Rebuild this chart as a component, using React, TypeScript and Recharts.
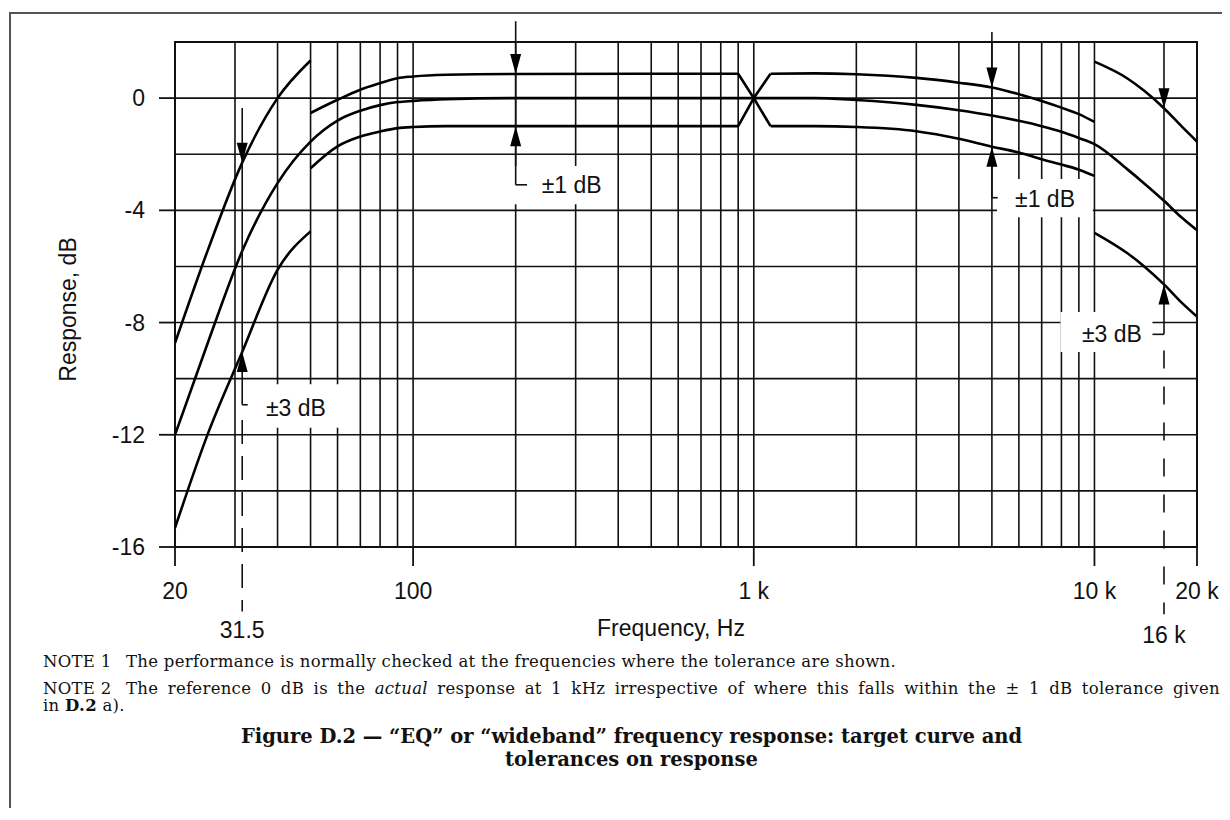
import React from 'react';
import { LineChart, Line, XAxis, YAxis, CartesianGrid, ReferenceLine, ReferenceArea, ReferenceDot } from 'recharts';

// axes
const gridFreqs = [20, 30, 40, 50, 60, 70, 80, 90, 100, 200, 300, 400, 500, 600, 700, 800, 900, 1000, 2000, 3000, 4000, 5000, 6000, 7000, 8000, 9000, 10000, 20000];
const freqTickLabels: Record<number, string> = { 20: '20', 100: '100', 1000: '1 k', 10000: '10 k', 20000: '20 k' };
const dbTicks = [-16, -14, -12, -10, -8, -6, -4, -2, 0, 2];
const dbTickLabels = [-16, -12, -8, -4, 0];

// target curve
const targetFreq = [20, 25, 31.5, 40, 50, 60, 70, 80, 90, 100, 125, 200, 500, 1000, 1500, 2000, 3000, 4000, 5000, 6000, 7000, 8000, 9000, 10000, 12500, 14000, 16000, 18000, 20000];
const targetDb = [-12.0, -8.7, -5.45, -3.03, -1.55, -0.8, -0.45, -0.25, -0.14, -0.1, -0.04, 0, 0, 0, 0, -0.07, -0.24, -0.43, -0.62, -0.81, -1.0, -1.2, -1.42, -1.64, -2.54, -3.04, -3.66, -4.25, -4.71];

// upper tolerance, piece by piece
const upperLowFreq = [20, 25, 31.5, 40, 50];
const upperLowDb = [-8.73, -5.4, -2.3, 0, 1.34];
const upperMidFreq = [50, 60, 70, 80, 90, 100, 125, 200, 900];
const upperMidDb = [-0.53, -0.06, 0.3, 0.53, 0.71, 0.77, 0.83, 0.86, 0.87];
const upperNotchFreq = [900, 1000, 1120];
const upperNotchDb = [0.87, 0, 0.87];
const upperHighFreq = [1120, 1500, 2000, 3000, 4000, 5000, 6000, 7000, 8000, 9000, 10000];
const upperHighDb = [0.87, 0.88, 0.85, 0.72, 0.55, 0.38, 0.14, -0.1, -0.34, -0.57, -0.85];
const upperTopFreq = [10000, 12500, 14000, 16000, 18000, 20000];
const upperTopDb = [1.3, 0.7, 0.26, -0.36, -1.0, -1.55];

// lower tolerance
const lowerLowFreq = [20, 25, 31.5, 40, 50];
const lowerLowDb = [-15.32, -11.95, -9.05, -6.12, -4.75];
const lowerMidFreq = [50, 60, 70, 80, 90, 100, 125, 200, 900];
const lowerMidDb = [-2.5, -1.72, -1.37, -1.19, -1.07, -1.03, -1.0, -1.0, -1.0];
const lowerNotchFreq = [900, 1000, 1120];
const lowerNotchDb = [-1.0, 0, -1.0];
const lowerHighFreq = [1120, 1500, 2000, 3000, 4000, 5000, 6000, 7000, 8000, 9000, 10000];
const lowerHighDb = [-1.0, -1.0, -1.03, -1.18, -1.45, -1.73, -1.94, -2.18, -2.37, -2.55, -2.77];
const lowerBottomFreq = [10000, 12500, 14000, 16000, 18000, 20000];
const lowerBottomDb = [-4.8, -5.53, -6.0, -6.64, -7.28, -7.79];

// tolerance check marks: frequency, top of line, elbow level, elbow end
const markFreq = [31.5, 200, 5000, 16000];
const markTop = [-0.35, 2.74, 2.36, 2];
const markElbow = [-10.93, -3.09, -3.55, -8.42];
const markElbowFreq = [32.7, 216, 5200, 14800];

// dashed extensions below the marks
const dashFreq = [31.5, 16000];
const dashFrom = [-11.47, -9.0];
const dashTo = [-18.3, -18.4];
const dashText = ['31.5', '16 k'];
const dashTextDb = [-18.95, -19.15];

// tolerance labels and the clear space behind them
const tolText = ['±3 dB', '±1 dB', '±1 dB', '±3 dB'];
const tolFreq = [45.3, 292, 7160, 11250];
const tolDb = [-11.04, -3.09, -3.6, -8.41];
const tolBoxFreq = [[32.6, 61.5], [196.7, 385], [5174, 9890], [7950, 14800]];
const tolBoxDb = [[-10.2, -11.75], [-2.42, -3.78], [-2.88, -4.25], [-7.62, -9.05]];

const pts = (f: number[], db: number[]) => f.map((v, i) => ({ f: v, db: db[i] }));
const at = (f: number[], db: number[], x: number) => db[f.indexOf(x)];

const upperAt = (x: number) => {
  for (const [f, d] of [[upperLowFreq, upperLowDb], [upperMidFreq, upperMidDb], [upperHighFreq, upperHighDb], [upperTopFreq, upperTopDb]]) {
    if (f.includes(x)) return at(f, d, x);
  }
  return 0;
};
const lowerAt = (x: number) => {
  for (const [f, d] of [[lowerLowFreq, lowerLowDb], [lowerMidFreq, lowerMidDb], [lowerHighFreq, lowerHighDb], [lowerBottomFreq, lowerBottomDb]]) {
    if (f.includes(x)) return at(f, d, x);
  }
  return 0;
};

const SANS = '"Liberation Sans", Arial, Helvetica, sans-serif';
const SERIF = '"DejaVu Serif", "Liberation Serif", serif';
const INK = '#111';

const FreqTick = (props: any) => {
  const { x, y, payload } = props;
  const label = freqTickLabels[payload.value];
  if (!label) return <g />;
  return (
    <g>
      <line x1={x} y1={y} x2={x} y2={y + 19} stroke={INK} strokeWidth={1.8} />
      <text x={x} y={y + 44} textAnchor="middle" dominantBaseline="central" fontFamily={SANS} fontSize={23} fill={INK}>
        {label}
      </text>
    </g>
  );
};

const DbTick = (props: any) => {
  const { x, y, payload } = props;
  if (!dbTickLabels.includes(payload.value)) return <g />;
  return (
    <g>
      <line x1={x - 16} y1={y} x2={x} y2={y} stroke={INK} strokeWidth={1.8} />
      <text x={x - 30} y={y} textAnchor="end" dominantBaseline="central" fontFamily={SANS} fontSize={23} fill={INK}>
        {payload.value}
      </text>
    </g>
  );
};

const arrowDown = (p: any) => (
  <path d={`M${p.cx} ${p.cy} L${p.cx - 5.5} ${p.cy - 20} L${p.cx + 5.5} ${p.cy - 20} Z`} fill="#000" />
);
const arrowUp = (p: any) => (
  <path d={`M${p.cx} ${p.cy} L${p.cx - 5.5} ${p.cy + 20} L${p.cx + 5.5} ${p.cy + 20} Z`} fill="#000" />
);
const textShape = (t: string) => (p: any) => (
  <text x={p.cx} y={p.cy} textAnchor="middle" dominantBaseline="central" fontFamily={SANS} fontSize={23} fill={INK}>
    {t}
  </text>
);

const curve = (key: string, f: number[], db: number[], type: 'monotone' | 'linear' = 'monotone') => (
  <Line
    key={key}
    data={pts(f, db)}
    dataKey="db"
    type={type}
    stroke="#000"
    strokeWidth={2.6}
    dot={false}
    activeDot={false}
    isAnimationActive={false}
  />
);

export default function App() {
  return (
    <div style={{ position: 'relative', width: 1214, height: 800 }}>
      <div
        style={{
          position: 'absolute',
          left: 1,
          top: 4,
          width: 1220,
          height: 806,
          borderTop: '2px solid #555',
          borderLeft: '2px solid #555',
          boxSizing: 'border-box',
        }}
      />
      <LineChart width={1214} height={640} margin={{ top: 34, right: 25, bottom: 41, left: 107 }}>
        <CartesianGrid stroke={INK} strokeWidth={1.6} />
        <XAxis
          dataKey="f"
          type="number"
          scale="log"
          domain={[20, 20000]}
          ticks={gridFreqs}
          interval={0}
          allowDataOverflow
          height={60}
          axisLine={false}
          tickLine={false}
          tickSize={0}
          tickMargin={0}
          tick={(p: any) => <FreqTick {...p} />}
          label={{
            content: (p: any) => {
              const vb = p.viewBox;
              return (
                <text x={vb.x + vb.width / 2 - 15} y={vb.y + 81} textAnchor="middle" dominantBaseline="central" fontFamily={SANS} fontSize={23} fill={INK}>
                  Frequency, Hz
                </text>
              );
            },
          }}
        />
        <YAxis
          type="number"
          domain={[-16, 2]}
          ticks={dbTicks}
          interval={0}
          allowDataOverflow
          width={60}
          axisLine={false}
          tickLine={false}
          tickSize={0}
          tickMargin={0}
          tick={(p: any) => <DbTick {...p} />}
          label={{
            content: (p: any) => {
              const vb = p.viewBox;
              const cx = vb.x - 47;
              const cy = vb.y + vb.height / 2 + 15;
              return (
                <text x={cx} y={cy} transform={`rotate(-90 ${cx} ${cy})`} textAnchor="middle" dominantBaseline="central" fontFamily={SANS} fontSize={23} fill={INK}>
                  Response, dB
                </text>
              );
            },
          }}
        />
        <ReferenceArea x1={20} x2={20000} y1={-16} y2={2} fill="none" stroke={INK} strokeWidth={2} ifOverflow="visible" />

        {tolBoxFreq.map((bx, i) => (
          <ReferenceArea
            key={`box${i}`}
            x1={bx[0]}
            x2={bx[1]}
            y1={tolBoxDb[i][0]}
            y2={tolBoxDb[i][1]}
            fill="#fff"
            fillOpacity={1}
            stroke="none"
            ifOverflow="visible"
          />
        ))}

        {curve('t', targetFreq, targetDb)}
        {curve('u1', upperLowFreq, upperLowDb)}
        {curve('u2', upperMidFreq, upperMidDb)}
        {curve('u3', upperNotchFreq, upperNotchDb, 'linear')}
        {curve('u4', upperHighFreq, upperHighDb)}
        {curve('u5', upperTopFreq, upperTopDb)}
        {curve('l1', lowerLowFreq, lowerLowDb)}
        {curve('l2', lowerMidFreq, lowerMidDb)}
        {curve('l3', lowerNotchFreq, lowerNotchDb, 'linear')}
        {curve('l4', lowerHighFreq, lowerHighDb)}
        {curve('l5', lowerBottomFreq, lowerBottomDb)}

        {markFreq.map((f, i) => (
          <ReferenceLine
            key={`mv${i}`}
            segment={[{ x: f, y: markTop[i] }, { x: f, y: markElbow[i] }]}
            stroke={INK}
            strokeWidth={1.6}
            ifOverflow="visible"
          />
        ))}
        {markFreq.map((f, i) => (
          <ReferenceLine
            key={`mh${i}`}
            segment={[{ x: f, y: markElbow[i] }, { x: markElbowFreq[i], y: markElbow[i] }]}
            stroke={INK}
            strokeWidth={1.6}
            ifOverflow="visible"
          />
        ))}
        {dashFreq.map((f, i) => (
          <ReferenceLine
            key={`dl${i}`}
            segment={[{ x: f, y: dashFrom[i] }, { x: f, y: dashTo[i] }]}
            stroke={INK}
            strokeWidth={1.6}
            strokeDasharray={i === 0 ? '24 12' : '18 18'}
            ifOverflow="visible"
          />
        ))}
        {markFreq.map((f, i) => (
          <ReferenceDot key={`ad${i}`} x={f} y={upperAt(f)} r={1} shape={arrowDown} ifOverflow="visible" />
        ))}
        {markFreq.map((f, i) => (
          <ReferenceDot key={`au${i}`} x={f} y={lowerAt(f)} r={1} shape={arrowUp} ifOverflow="visible" />
        ))}
        {tolText.map((t, i) => (
          <ReferenceDot key={`tt${i}`} x={tolFreq[i]} y={tolDb[i]} r={1} shape={textShape(t)} ifOverflow="visible" />
        ))}
        {dashText.map((t, i) => (
          <ReferenceDot key={`dt${i}`} x={dashFreq[i]} y={dashTextDb[i]} r={1} shape={textShape(t)} ifOverflow="visible" />
        ))}
      </LineChart>

      <div
        style={{
          position: 'absolute',
          left: 35,
          top: 645,
          width: 1177,
          fontFamily: SERIF,
          fontSize: 16.5,
          letterSpacing: '0.3px',
          lineHeight: '17px',
          color: INK,
        }}
      >
        <div style={{ whiteSpace: 'nowrap' }}>
          <span style={{ display: 'inline-block', width: 83 }}>NOTE 1</span>The performance is normally checked at the frequencies where the tolerance are shown.
        </div>
        <div style={{ marginTop: 10, textAlign: 'justify', textAlignLast: 'justify' }}>
          <span style={{ display: 'inline-block', width: 83, textAlignLast: 'left' }}>NOTE 2</span>The reference 0 dB is the <i>actual</i> response at 1 kHz irrespective of where this falls within the ± 1 dB tolerance given
        </div>
        <div>
          in <b>D.2</b> a).
        </div>
      </div>
      <div
        style={{
          position: 'absolute',
          left: 35,
          top: 717,
          width: 1177,
          textAlign: 'center',
          fontFamily: SERIF,
          fontWeight: 'bold',
          fontSize: 19.5,
          lineHeight: '23px',
          color: INK,
        }}
      >
        Figure D.2 — “EQ” or “wideband” frequency response: target curve and
        <br />
        tolerances on response
      </div>
    </div>
  );
}
